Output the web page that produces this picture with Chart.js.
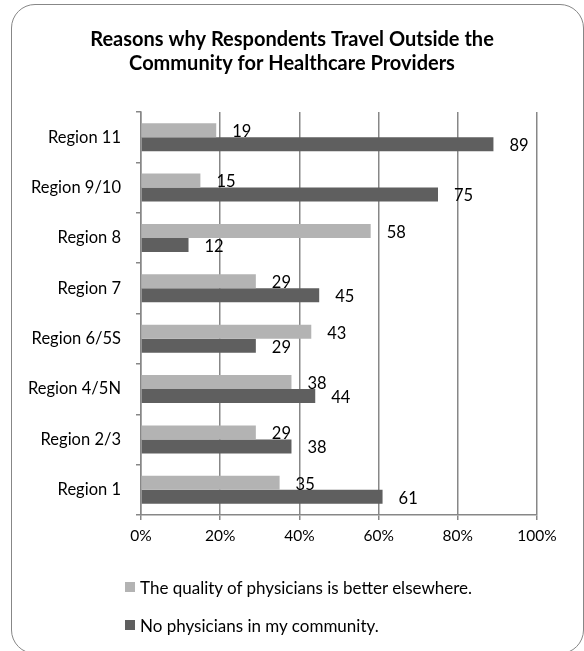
<!DOCTYPE html>
<html>
<head>
<meta charset="utf-8">
<script src="https://cdn.jsdelivr.net/npm/chart.js@4/dist/chart.umd.min.js"></script>
<style>
  html, body { margin: 0; padding: 0; background: #fff; }
  body { width: 584px; height: 651px; position: relative; overflow: hidden; font-family: Lato, "Noto Sans", sans-serif; }
  #frame {
    position: absolute; left: 11px; top: 4px; width: 573px; height: 650px;
    border: 1.5px solid #878787; border-radius: 24px; box-sizing: border-box;
  }
  #wrap { position: absolute; left: 0; top: 0; width: 584px; height: 651px; }
  #legend { position: absolute; left: 125px; top: 577px; font-size: 17px; color: #000; }
  .item { display: flex; align-items: center; height: 20px; margin-bottom: 18px; }
  .swatch { width: 10px; height: 10px; margin-right: 5px; }
</style>
</head>
<body>
<div id="frame"></div>
<div id="wrap"><canvas id="chart"></canvas></div>
<div id="legend"></div>
<script>
const regions = ["Region 11", "Region 9/10", "Region 8", "Region 7", "Region 6/5S", "Region 4/5N", "Region 2/3", "Region 1"];
const qualityElsewhere = [19, 15, 58, 29, 43, 38, 29, 35];
const noPhysicians = [89, 75, 12, 45, 29, 44, 38, 61];
const seriesNames = ["The quality of physicians is better elsewhere.", "No physicians in my community."];
const seriesColors = ["#b3b3b3", "#5f5f5f"];
const xTicks = [0, 20, 40, 60, 80, 100];

const gridColor = "#878787";
const fontFamily = "Lato, 'Noto Sans', sans-serif";

// writes each bar's number just past its end
const valueLabels = {
  id: "valueLabels",
  afterDatasetsDraw(chart) {
    const ctx = chart.ctx;
    ctx.save();
    ctx.font = "16.5px " + fontFamily;
    ctx.fillStyle = "#000";
    ctx.textAlign = "left";
    ctx.textBaseline = "middle";
    chart.data.datasets.forEach((ds, i) => {
      chart.getDatasetMeta(i).data.forEach((bar, j) => {
        ctx.fillText(String(ds.data[j]), bar.x + 16, bar.y + 1.5);
      });
    });
    ctx.restore();
  },
};

const chart = new Chart(document.getElementById("chart"), {
  type: "bar",
  plugins: [valueLabels],
  data: {
    labels: regions,
    datasets: [
      { label: seriesNames[0], data: qualityElsewhere, backgroundColor: seriesColors[0] },
      { label: seriesNames[1], data: noPhysicians, backgroundColor: seriesColors[1] },
    ],
  },
  options: {
    indexAxis: "y",
    responsive: true,
    maintainAspectRatio: false,
    animation: false,
    categoryPercentage: 0.555,
    barPercentage: 1.0,
    layout: { padding: { left: 0, right: 0, top: 0, bottom: 96 } },
    plugins: {
      legend: { display: false },
      tooltip: { enabled: false },
      title: {
        display: true,
        text: ["Reasons why Respondents Travel Outside the", "Community for Healthcare Providers"],
        color: "#000",
        font: { family: fontFamily, size: 20, weight: "bold", lineHeight: "24px" },
        padding: { top: 28, bottom: 36 },
      },
    },
    scales: {
      x: {
        min: 0,
        max: 100,
        afterBuildTicks: (scale) => { scale.ticks = xTicks.map((v) => ({ value: v })); },
        afterFit: (scale) => { scale.height = 40; },
        ticks: {
          color: "#000",
          padding: 7,
          font: { family: fontFamily, size: 15.5 },
          callback: (v) => v + "%",
        },
        grid: { color: gridColor, lineWidth: 1.5, tickLength: 5 },
        border: { color: gridColor, width: 1.5 },
      },
      y: {
        afterFit: (scale) => { scale.width = 141; },
        ticks: {
          color: "#000",
          padding: 15,
          font: { family: fontFamily, size: 16.5 },
        },
        grid: { drawOnChartArea: false, color: gridColor, lineWidth: 1.5, tickLength: 5 },
        border: { color: gridColor, width: 1.5 },
      },
      // empty right-hand axis, only reserves space so the title sits centred
      ySpacer: {
        type: "category",
        position: "right",
        ticks: { display: false },
        grid: { display: false },
        border: { display: false },
        afterFit: (scale) => { scale.width = 47; },
      },
    },
  },
});

// legend stacked one entry per row below the axis
const legend = document.getElementById("legend");
chart.data.datasets.forEach((ds) => {
  const row = document.createElement("div");
  row.className = "item";
  row.innerHTML = `<span class="swatch" style="background:${ds.backgroundColor}"></span><span>${ds.label}</span>`;
  legend.appendChild(row);
});
</script>
</body>
</html>
